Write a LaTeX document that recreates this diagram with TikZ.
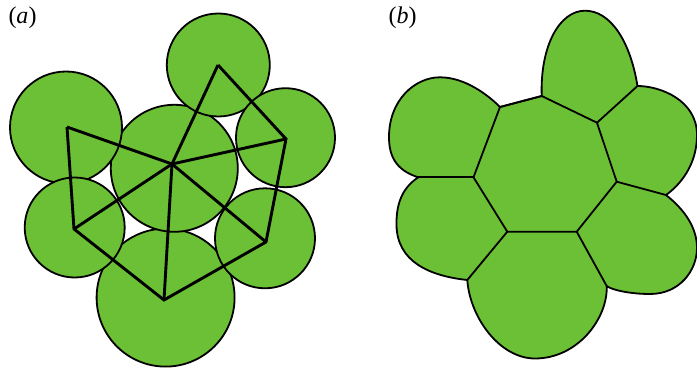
\documentclass[tikz,border=0pt]{standalone}
\usepackage{fontspec}
\setmainfont{Liberation Serif}
\usepackage{tikz}
\usetikzlibrary{positioning,calc}
\usepackage{xcolor}
\definecolor{cellgreen}{RGB}{108,192,54}

\begin{document}
\begin{tikzpicture}[
  x=1pt, y=-1pt,
  disc/.style={draw=black, fill=cellgreen, line width=1.8pt},
  bond/.style={black, line width=2.9pt, line join=miter},
  wall/.style={black, line width=1.8pt, line join=round},
  tissue/.style={draw=black, fill=cellgreen, line width=1.8pt, line join=round},
  panel/.style={font=\fontsize{24}{27}\selectfont, inner sep=0pt},
]
\useasboundingbox (0,0) rectangle (697,369);
%─── Left panel (a): discs and their contact graph ─────────────────────────
\begin{scope}
  \node[panel] (lbla) at (22.5,18) {(\textit{a})};
  \coordinate (cC) at (172,164);
  \coordinate (cT) at (218,65);
  \coordinate (cUR) at (286,139);
  \coordinate (cUL) at (67,127);
  \coordinate (cLL) at (74,229);
  \coordinate (cLR) at (266,242);
  \coordinate (cB) at (164,300);
  \draw[disc] (165.6,297.6) circle[radius=69pt];
  \draw[disc] (174.3,168.3) circle[radius=63.5pt];
  \draw[disc] (66,127.5) circle[radius=56pt];
  \draw[disc] (74.7,227.5) circle[radius=50pt];
  \draw[disc] (218.3,65) circle[radius=51.5pt];
  \draw[disc] (285.5,137.7) circle[radius=49.5pt];
  \draw[disc] (265,238.3) circle[radius=50pt];
  \draw[bond] (cUL) -- (cLL) -- (cB) -- (cLR) -- (cUR) -- (cT);
  \foreach \v in {cT,cUR,cLR,cB,cLL,cUL}
    \draw[bond] (cC) -- (\v);
\end{scope}
%─── Right panel (b): polygonal tissue ─────────────────────────────────────
\begin{scope}
  \node[panel] (lblb) at (402.5,18) {(\textit{b})};
  \coordinate (p1) at (500,107);
  \coordinate (p2) at (541.7,96);
  \coordinate (p3) at (597,122.7);
  \coordinate (p4) at (616.7,181.7);
  \coordinate (p5) at (576.7,231.7);
  \coordinate (p6) at (507.3,231.7);
  \coordinate (p7) at (473.5,177.3);
  \coordinate (q3) at (637.5,86);
  \coordinate (q4) at (666,195);
  \coordinate (q5) at (606.7,286);
  \coordinate (q6) at (467.3,280);
  \coordinate (q7) at (418.3,177.3);
  % outer rim, lobe by lobe
  \path[tissue] (p1) -- (p2)
    .. controls (540,45) and (560,10.7) .. (585,10.7)
    .. controls (610,10.7) and (630,40) .. (q3)
    .. controls (660,86) and (697,100) .. (697,135)
    .. controls (697,165) and (680,185) .. (q4)
    .. controls (685,210) and (697,228) .. (697,248)
    .. controls (697,270) and (680,294) .. (650,294)
    .. controls (630,294) and (612,290) .. (q5)
    .. controls (608,318) and (578,358.5) .. (535,358.5)
    .. controls (500,358.5) and (470,318) .. (q6)
    .. controls (430,276) and (397,262) .. (396.5,225)
    .. controls (396,200) and (405,186) .. (q7)
    .. controls (395,170) and (389,155) .. (389,137)
    .. controls (389,100) and (415,77.3) .. (440,77.3)
    .. controls (465,77.3) and (488,95) .. (p1)
    -- cycle;
  \draw[wall] (p1) -- (p2) -- (p3) -- (p4) -- (p5) -- (p6) -- (p7) -- cycle;
  \draw[wall] (p3) -- (q3);
  \draw[wall] (p4) -- (q4);
  \draw[wall] (p5) -- (q5);
  \draw[wall] (p6) -- (q6);
  \draw[wall] (p7) -- (q7);
\end{scope}
\end{tikzpicture}
\end{document}
